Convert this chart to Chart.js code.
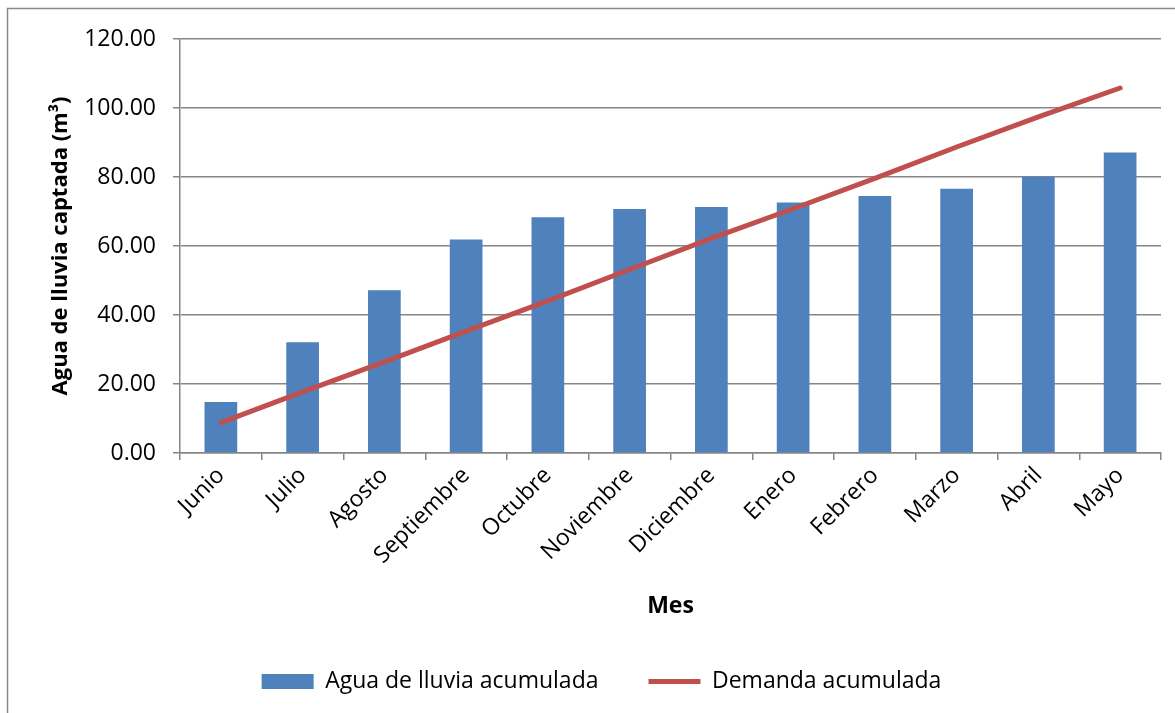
<!DOCTYPE html>
<html>
<head>
<meta charset="utf-8">
<script src="https://cdn.jsdelivr.net/npm/chart.js@4/dist/chart.umd.min.js"></script>
<style>
  html, body { margin: 0; padding: 0; background: #fff; }
  #wrap { width: 1175px; height: 713px; position: relative; }
</style>
</head>
<body>
<div id="wrap"><canvas id="chart"></canvas></div>
<script>
// Data
const months = ["Junio", "Julio", "Agosto", "Septiembre", "Octubre", "Noviembre",
  "Diciembre", "Enero", "Febrero", "Marzo", "Abril", "Mayo"];
const rainAccum = [14.8, 32.1, 47.2, 61.9, 68.3, 70.7, 71.3, 72.6, 74.5, 76.6, 80.1, 87.1];
const demandAccum = [8.8, 17.7, 26.4, 35.3, 44.1, 53.2, 62.2, 70.8, 79.6, 88.7, 97.4, 105.8];
const yTicks = [0, 20, 40, 60, 80, 100, 120];

const GRID = "#868686";
const FONT = "'Open Sans', sans-serif";

Chart.defaults.color = "#000";
Chart.defaults.font.family = FONT;

// outer frame like the spreadsheet chart area
const framePlugin = {
  id: "frame",
  beforeDraw(chart) {
    const ctx = chart.ctx;
    ctx.save();
    ctx.fillStyle = "#fff";
    ctx.fillRect(0, 0, chart.width, chart.height);
    ctx.strokeStyle = "#898989";
    ctx.lineWidth = 1.5;
    ctx.strokeRect(7.5, 8.5, chart.width + 20, chart.height + 20);
    ctx.restore();
  },
  afterLayout(chart) {
    // legend in the original sits a bit right of centre
    if (chart.legend) {
      chart.legend.left += 16;
      chart.legend.right += 16;
    }
  },
};

const ctx = document.getElementById("chart");
new Chart(ctx, {
  type: "bar",
  data: {
    labels: months,
    datasets: [
      {
        type: "bar",
        label: "Agua de lluvia acumulada",
        data: rainAccum,
        backgroundColor: "#4F81BD",
        borderWidth: 0,
        categoryPercentage: 1,
        barPercentage: 0.4,
        order: 1,
      },
      {
        type: "line",
        label: "Demanda acumulada",
        data: demandAccum,
        borderColor: "#C0504D",
        backgroundColor: "#C0504D",
        borderWidth: 5,
        pointRadius: 0,
        tension: 0,
        borderCapStyle: "round",
        pointStyle: "line",
        order: 0,
      },
    ],
  },
  options: {
    responsive: true,
    maintainAspectRatio: false,
    animation: false,
    layout: { padding: { left: 10, right: 14, top: 39, bottom: 10 } },
    plugins: {
      tooltip: { enabled: false },
      legend: {
        position: "bottom",
        labels: {
          usePointStyle: true,
          pointStyleWidth: 52,
          boxHeight: 15,
          padding: 50,
          font: { size: 23 },
          sort: (a, b) => a.datasetIndex - b.datasetIndex,
          generateLabels(chart) {
            const items = Chart.defaults.plugins.legend.labels.generateLabels(chart);
            items.forEach((it) => {
              if (it.datasetIndex === 0) {
                it.pointStyle = "rect";
                it.lineWidth = 0;
              } else {
                it.pointStyle = "line";
                it.lineWidth = 5;
              }
            });
            return items;
          },
        },
      },
    },
    scales: {
      x: {
        offset: true,
        grid: {
          offset: true,
          drawOnChartArea: false,
          drawTicks: true,
          tickLength: 7,
          color: GRID,
          lineWidth: 1.5,
        },
        border: { color: GRID, width: 1.5 },
        ticks: {
          minRotation: 45,
          maxRotation: 45,
          font: { size: 23 },
          padding: 2,
        },
        title: {
          display: true,
          text: "Mes",
          font: { size: 23, weight: "bold" },
          padding: { top: 14, bottom: 0 },
        },
        afterFit(scale) {
          scale.height = 167;
        },
      },
      y: {
        min: 0,
        max: 120,
        afterBuildTicks(scale) {
          scale.ticks = yTicks.map((v) => ({ value: v }));
        },
        grid: {
          color: GRID,
          lineWidth: 1.5,
          drawTicks: true,
          tickLength: 7,
        },
        border: { color: GRID, width: 1.5 },
        ticks: {
          font: { size: 23 },
          padding: 17,
          callback: (v) => Number(v).toFixed(2),
        },
        title: {
          display: true,
          text: "Agua de lluvia captada (m³)",
          font: { size: 22, weight: "bold" },
          padding: { top: 38, bottom: 2 },
        },
        afterFit(scale) {
          scale.width = 170;
        },
      },
    },
  },
  plugins: [framePlugin],
});
</script>
</body>
</html>
